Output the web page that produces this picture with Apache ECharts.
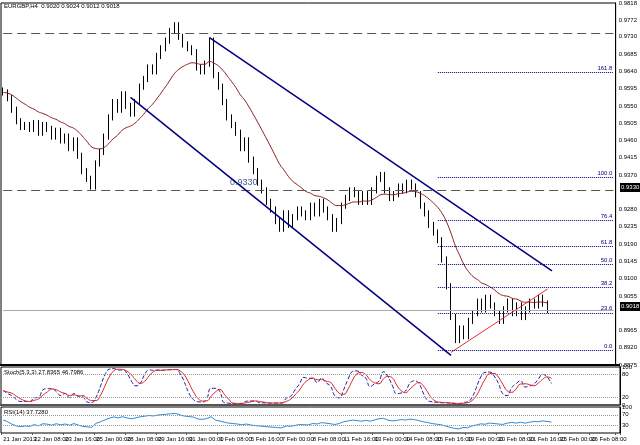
<!DOCTYPE html><html><head><meta charset="utf-8"><script src="https://cdn.jsdelivr.net/npm/echarts@6/dist/echarts.min.js"></script>
<style>html,body{margin:0;background:#fff}#c{width:640px;height:445px}</style></head><body><div id="c"></div><script>
const closes=[0.9585,0.9570,0.9540,0.9510,0.9495,0.9500,
0.9490,0.9505,0.9480,0.9500,0.9490,0.9470,0.9485,0.9460,
0.9470,0.9440,0.9460,0.9420,0.9380,0.9360,0.9340,
0.9400,0.9430,0.9470,0.9520,0.9560,0.9540,0.9580,
0.9550,0.9530,0.9560,0.9600,0.9620,0.9650,0.9640,
0.9680,0.9700,0.9720,0.9745,0.9760,0.9730,0.9710,
0.9700,0.9690,0.9650,0.9640,0.9660,0.9720,
0.9630,0.9600,0.9560,0.9520,0.9500,0.9480,
0.9440,0.9460,0.9410,0.9380,0.9350,0.9330,
0.9300,0.9280,0.9250,0.9230,0.9270,0.9240,0.9260,
0.9280,0.9270,0.9260,0.9290,0.9270,0.9300,0.9280,0.9260,0.9230,
0.9250,0.9290,0.9310,0.9330,0.9320,0.9300,0.9320,
0.9300,0.9330,0.9360,0.9370,0.9330,0.9310,
0.9320,0.9340,0.9330,0.9350,0.9340,0.9320,0.9290,
0.9270,0.9240,0.9220,0.9200,0.9150,
0.9080,0.9000,0.8940,0.8970,0.8950,0.8990,
0.9010,0.9040,0.9020,0.9050,0.9030,0.9010,
0.8990,0.9020,0.9040,0.9010,0.9030,0.9000,
0.9020,0.9040,0.9030,0.9050,0.9035,0.9018];
const timeLabels=["21 Jan 2013","22 Jan 08:00","23 Jan 16:00","25 Jan 00:00","28 Jan 08:00","29 Jan 16:00","31 Jan 00:00","1 Feb 08:00","5 Feb 16:00","7 Feb 00:00","8 Feb 08:00","11 Feb 16:00","13 Feb 00:00","14 Feb 08:00","15 Feb 16:00","19 Feb 00:00","20 Feb 08:00","21 Feb 16:00","25 Feb 00:00","26 Feb 08:00"];
const fibLevels=[["161.8",0.9637],["100.0",0.9365],["76.4",0.9252],["61.8",0.9184],["50.0",0.9138],["38.2",0.9078],["23.6",0.9011],["0.0",0.8913]];
const yTicks=[0.9818,0.9772,0.9730,0.9685,0.9640,0.9595,0.9550,0.9505,0.9460,0.9415,0.9370,0.9280,0.9235,0.9190,0.9145,0.9100,0.9055,0.8965,0.8920,0.8875];
const N=140;
const cats=[];for(let i=0;i<N;i++)cats.push(i%7===0?timeLabels[i/7]:'');
const ohlc=closes.map((c,i)=>{const o=i?closes[i-1]:c+0.0005;return [o,c,Math.min(o,c)-0.0008,Math.max(o,c)+0.0008];});
const ma=[];let e=closes[0];closes.forEach((c,i)=>{e=e+(c-e)*2/17;ma.push(+e.toFixed(5));});
const K=[],D=[],S=[];
for(let i=0;i<closes.length;i++){let lo=1,hi=0;for(let j=Math.max(0,i-4);j<=i;j++){lo=Math.min(lo,ohlc[j][2]);hi=Math.max(hi,ohlc[j][3]);}K.push((closes[i]-lo)/(hi-lo)*100);}
for(let i=0;i<K.length;i++){let s=0,n=0;for(let j=Math.max(0,i-2);j<=i;j++){s+=K[j];n++;}S.push(s/n);}
for(let i=0;i<S.length;i++){let s=0,n=0;for(let j=Math.max(0,i-2);j<=i;j++){s+=S[j];n++;}D.push(s/n);}
const rsi=[];let ag=0.0004,al=0.0004;for(let i=0;i<closes.length;i++){const d=i?closes[i]-closes[i-1]:0;ag=(ag*13+Math.max(d,0))/14;al=(al*13+Math.max(-d,0))/14;rsi.push(100-100/(1+ag/al));}
const ch=echarts.init(document.getElementById('c'));
const fibLines=fibLevels.map(f=>[{coord:[99,f[1]],lineStyle:{type:'dotted',color:'#000080',width:1},label:{show:true,formatter:f[0],position:'insideEndTop',distance:1,fontSize:6,color:'#000080',padding:0}},{coord:[N-1,f[1]]}]);
ch.setOption({animation:false,backgroundColor:'#fff',
graphic:[{type:'text',left:4,top:3,style:{text:'EURGBP,H4  0.9020 0.9024 0.9012 0.9018',fontSize:6,fill:'#000'}},
{type:'text',left:4,top:369,style:{text:'Stoch(5,3,3) 27.8365 46.7986',fontSize:6,fill:'#000'}},
{type:'text',left:4,top:409,style:{text:'RSI(14) 37.7280',fontSize:6,fill:'#000'}},
{type:'text',left:230,top:178,style:{text:'0.9330',fontSize:9,fill:'#4060a0'}},
{type:'rect',shape:{x:0,y:364,width:620,height:2},style:{fill:'#000'}},
{type:'rect',shape:{x:0,y:404,width:620,height:2},style:{fill:'#555'}},
{type:'rect',shape:{x:620,y:183,width:20,height:9},style:{fill:'#000'}},
{type:'text',left:621,top:184,style:{text:'0.9330',fontSize:6,fill:'#fff'}},
{type:'rect',shape:{x:620,y:302,width:20,height:9},style:{fill:'#000'}},
{type:'text',left:621,top:303,style:{text:'0.9018',fontSize:6,fill:'#fff'}}],
grid:[{left:1,right:20,top:1,height:364,show:true,borderColor:'#000',borderWidth:1},
{left:1,right:20,top:367,height:38,show:true,borderColor:'#000'},
{left:1,right:20,top:407,height:26,show:true,borderColor:'#000'}],
xAxis:[0,1,2].map(g=>({type:'category',gridIndex:g,data:cats,boundaryGap:true,axisLine:{show:false},axisTick:{show:g===2,interval:6,length:2},splitLine:{show:false},
axisLabel:{show:g===2,interval:0,fontSize:6,color:'#000',align:'left',margin:3}})),
yAxis:[{gridIndex:0,position:'right',min:0.8875,max:0.9818,splitLine:{show:false},axisLine:{show:true,lineStyle:{color:'#000'}},
axisLabel:{fontSize:6,color:'#000',margin:3,customValues:yTicks,formatter:v=>v.toFixed(4)},axisTick:{customValues:yTicks,length:2}},
{gridIndex:1,position:'right',min:0,max:100,interval:10,splitLine:{show:false},axisLine:{show:true,lineStyle:{color:'#000'}},axisLabel:{fontSize:6,color:'#000',margin:2,formatter:v=>[100,80,20,0].includes(v)?v:''},axisTick:{show:false}},
{gridIndex:2,position:'right',min:0,max:100,interval:10,splitLine:{show:false},axisLine:{show:true,lineStyle:{color:'#000'}},axisLabel:{fontSize:6,color:'#000',margin:2,formatter:v=>[100,70,30].includes(v)?v:''},axisTick:{show:false}}],
series:[{type:'candlestick',data:ohlc,barWidth:1,itemStyle:{color:'#000',color0:'#000',borderColor:'#000',borderColor0:'#000',borderWidth:1},
markLine:{symbol:'none',silent:true,label:{show:false},data:[
[{coord:[0,0.9740]},{coord:[N-1,0.9740]}],
[{coord:[0,0.9330]},{coord:[N-1,0.9330]}],
[{coord:[0,0.9018],lineStyle:{type:'solid',color:'#aaa'}},{coord:[N-1,0.9018]}],
[{coord:[47,0.9728],lineStyle:{type:'solid',color:'#000080',width:1.5}},{coord:[125,0.9120]}],
[{coord:[29,0.9572],lineStyle:{type:'solid',color:'#000080',width:1.5}},{coord:[102,0.8900]}],
[{coord:[102,0.8908],lineStyle:{type:'solid',color:'#e03030',width:1}},{coord:[124,0.9073]}],
...fibLines
],lineStyle:{type:[9,5],color:'#555',width:1}}},
{type:'line',data:ma,showSymbol:false,lineStyle:{color:'#8b1a1a',width:1},smooth:true},
{type:'line',xAxisIndex:1,yAxisIndex:1,data:S,showSymbol:false,smooth:true,lineStyle:{color:'#1a1aa0',width:1,type:'dashed'},
markLine:{symbol:'none',silent:true,label:{show:false},lineStyle:{type:'dotted',color:'#999'},data:[{yAxis:80},{yAxis:20}]}},
{type:'line',xAxisIndex:1,yAxisIndex:1,data:D,showSymbol:false,smooth:true,lineStyle:{color:'#e02020',width:1}},
{type:'line',xAxisIndex:2,yAxisIndex:2,data:rsi,showSymbol:false,lineStyle:{color:'#2a8ad8',width:1},
markLine:{symbol:'none',silent:true,label:{show:false},lineStyle:{type:'dotted',color:'#999'},data:[{yAxis:70},{yAxis:30}]}}]});
</script></body></html>
